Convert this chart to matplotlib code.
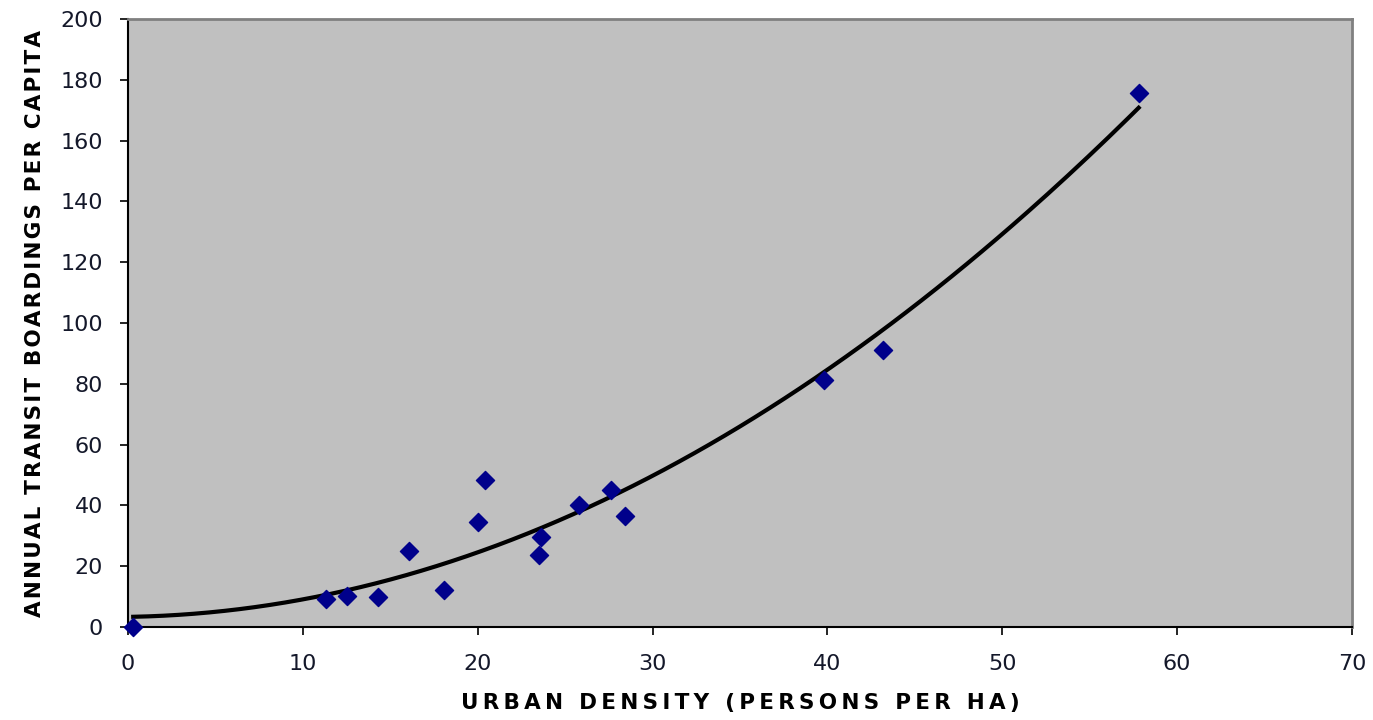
import numpy as np
import matplotlib.pyplot as plt

# urban density (persons per ha) vs annual transit boardings per capita
density = [0.3, 11.3, 12.5, 14.3, 16.1, 18.1, 20.0, 20.4, 23.5, 23.6, 25.8, 27.6, 28.4, 39.8, 43.2, 57.8]
boardings = [0.0, 9.3, 10.3, 9.9, 25.0, 12.2, 34.6, 48.3, 23.7, 29.6, 40.0, 45.1, 36.4, 81.3, 91.0, 175.6]

x_ticks = np.arange(0, 71, 10)
y_ticks = np.arange(0, 201, 20)

x_title = 'URBAN DENSITY (PERSONS PER HA)'
y_title = 'ANNUAL TRANSIT BOARDINGS PER CAPITA'

fig = plt.figure(figsize=(13.73, 7.2), dpi=100)
ax = fig.add_axes([0.0932, 0.129, 0.8915, 0.8446])
ax.set_facecolor('#c0c0c0')

# second order polynomial trendline
coef = np.polyfit(density, boardings, 2)
xs = np.linspace(min(density), max(density), 200)
ax.plot(xs, np.polyval(coef, xs), color='black', lw=3, zorder=2)

ax.scatter(density, boardings, marker='D', s=85, color='#00008b', zorder=3, clip_on=False)

ax.set_xlim(0, 70)
ax.set_ylim(0, 200)
ax.set_xticks(x_ticks)
ax.set_yticks(y_ticks)
ax.tick_params(direction='out', length=6, width=1.2, labelsize=16, labelcolor='#14182a')
ax.tick_params(axis='x', pad=13)
ax.tick_params(axis='y', pad=12)

for s in ['left', 'bottom']:
    ax.spines[s].set_color('black')
    ax.spines[s].set_linewidth(1.5)
for s in ['right', 'top']:
    ax.spines[s].set_color('#808080')
    ax.spines[s].set_linewidth(2)

# spread the letters a bit, the original titles are letter-spaced
ax.set_xlabel('\u2009'.join(x_title), fontsize=15.5, fontweight='bold', labelpad=14)
ax.set_ylabel('\u200a'.join(y_title), fontsize=15.5, fontweight='bold', labelpad=11)

fig.savefig('out.png', dpi=100)
